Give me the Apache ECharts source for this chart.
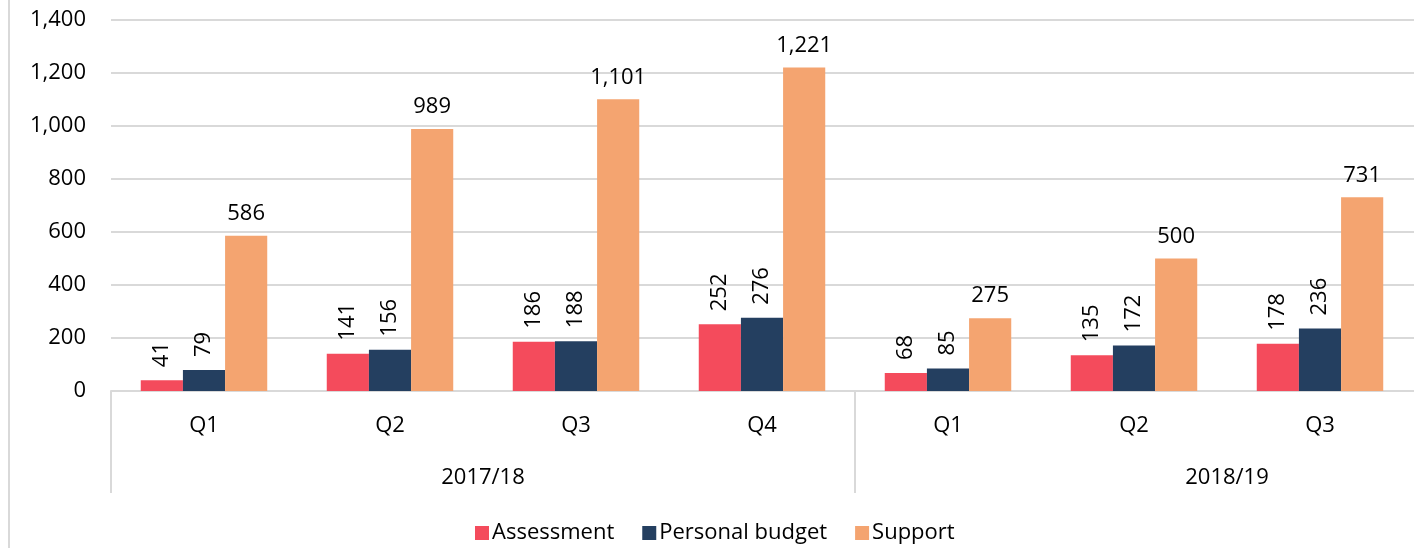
<!DOCTYPE html>
<html>
<head>
<meta charset="utf-8">
<script src="https://cdn.jsdelivr.net/npm/echarts@6/dist/echarts.min.js"></script>
<style>html,body{margin:0;padding:0;background:#fff;overflow:hidden;width:1414px;height:548px}#c{width:1600px;height:548px}</style>
</head>
<body>
<div id="c"></div>
<script>
const quarters = ['Q1','Q2','Q3','Q4','Q1','Q2','Q3',''];
const years = ['2017/18','2018/19'];
const assessment = [41,141,186,252,68,135,178,null];
const personalBudget = [79,156,188,276,85,172,236,null];
const support = [586,989,1101,1221,275,500,731,null];
const yTicks = [0,200,400,600,800,1000,1200,1400];

const FONT = '"Open Sans", "Noto Sans", sans-serif';
const FS = 22;
const chart = echarts.init(document.getElementById('c'), null, {renderer:'canvas'});
const fmt = p => p.value==null ? '' : p.value.toLocaleString('en-US');
const rotLabel = {show:true, position:'top', rotate:90, align:'left', verticalAlign:'middle', distance:13, fontSize:FS, color:'#000', fontFamily:FONT, formatter:fmt};
chart.setOption({
  animation:false,
  textStyle:{fontFamily:FONT},
  grid:{left:111, width:1488, top:20, height:371, containLabel:false},
  legend:{
    left:470, top:517, itemWidth:14, itemHeight:14, itemGap:28,
    icon:'rect',
    textStyle:{fontSize:FS, color:'#000', fontFamily:FONT, padding:[0,0,0,-2]},
    data:['Assessment','Personal budget','Support']
  },
  xAxis:[
    {type:'category', data:quarters, position:'bottom',
     axisLine:{show:true, lineStyle:{color:'#d9d9d9', width:2}},
     axisTick:{show:false},
     axisLabel:{fontSize:FS, color:'#000', margin:24, fontFamily:FONT},
     splitLine:{show:false}},
    {type:'category', data:years, position:'bottom', gridIndex:0,
     axisLine:{show:false},
     axisTick:{show:true, interval:0, length:102, lineStyle:{color:'#d9d9d9', width:2}},
     axisLabel:{fontSize:FS, color:'#000', margin:76, fontFamily:FONT},
     splitLine:{show:false}}
  ],
  yAxis:{type:'value', min:0, max:1400, interval:200,
    axisLine:{show:false}, axisTick:{show:false},
    axisLabel:{fontSize:FS, color:'#000', margin:25, fontFamily:FONT, formatter:v=>v.toLocaleString('en-US')},
    splitLine:{lineStyle:{color:'#d9d9d9', width:2}}},
  series:[
    {name:'Assessment', type:'bar', data:assessment, itemStyle:{color:'#F44B5C'}, barGap:0, barCategoryGap:'32%', label:rotLabel},
    {name:'Personal budget', type:'bar', data:personalBudget, itemStyle:{color:'#243F60'}, barGap:0, barCategoryGap:'32%', label:rotLabel},
    {name:'Support', type:'bar', data:support, itemStyle:{color:'#F4A470'}, barGap:0, barCategoryGap:'32%',
     label:{show:true, position:'top', distance:11, fontSize:FS, color:'#000', fontFamily:FONT, formatter:fmt}}
  ],
  graphic:[{type:'line', shape:{x1:9, y1:0, x2:9, y2:548}, style:{stroke:'#d9d9d9', lineWidth:2}, silent:true}]
});
</script>
</body>
</html>
